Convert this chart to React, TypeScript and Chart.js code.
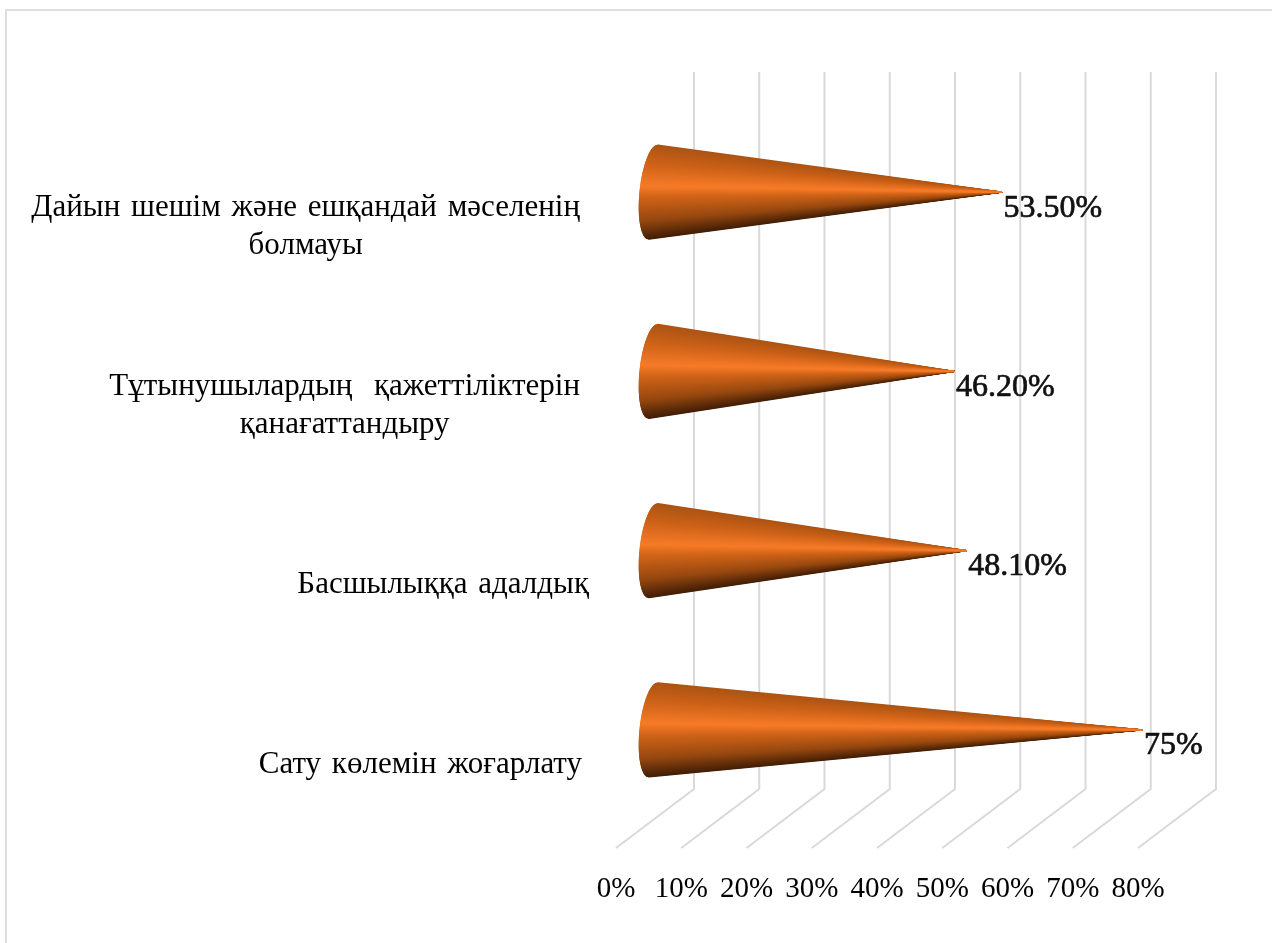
import React, { useEffect, useRef } from "react";
import { Chart, registerables } from "chart.js";

Chart.register(...registerables);

const categories: string[][] = [
  ["Дайын шешім және ешқандай мәселенің", "болмауы"],
  ["Тұтынушылардың  қажеттіліктерін", "қанағаттандыру"],
  ["Басшылыққа адалдық"],
  ["Сату көлемін жоғарлату"],
];
const shares = [53.5, 46.2, 48.1, 75];
const shareLabels = ["53.50%", "46.20%", "48.10%", "75%"];
const xTicks = [0, 10, 20, 30, 40, 50, 60, 70, 80];

const SERIF = '"Liberation Serif", serif';
const GRID = "#d9d9d9";
const DEPTH_X = 78;
const DEPTH_Y = -59;
const CONE_DX = 36.5;
const CONE_DY = -28.5;
const LABEL_RIGHT_EDGES = [580, 580, 589, 582];
const HIGHLIGHT = 0.43;

// Colour ramp across the cone, top silhouette (0) to bottom silhouette (1).
const ramp: [number, number[]][] = [
  [0, [172, 84, 20]],
  [0.2, [205, 98, 24]],
  [HIGHLIGHT, [245, 122, 40]],
  [0.55, [208, 100, 24]],
  [0.8, [150, 72, 16]],
  [1, [66, 30, 6]],
];

function shade(t: number): string {
  for (let i = 1; i < ramp.length; i++) {
    if (t <= ramp[i][0]) {
      const [t0, a] = ramp[i - 1];
      const [t1, b] = ramp[i];
      const k = (t - t0) / (t1 - t0);
      const c = a.map((v, j) => Math.round(v + (b[j] - v) * k));
      return `rgb(${c[0]},${c[1]},${c[2]})`;
    }
  }
  const last = ramp[ramp.length - 1][1];
  return `rgb(${last[0]},${last[1]},${last[2]})`;
}

// Page frame plus the back wall and floor lines of the 3D plot box.
const boxPlugin = {
  id: "box3d",
  beforeDatasetsDraw(chart: any) {
    const { ctx, scales, chartArea } = chart;
    ctx.save();
    ctx.strokeStyle = "#dedede";
    ctx.lineWidth = 2;
    ctx.beginPath();
    ctx.moveTo(6, 943);
    ctx.lineTo(6, 10);
    ctx.lineTo(1272, 10);
    ctx.stroke();

    ctx.strokeStyle = GRID;
    ctx.lineWidth = 2;
    for (const tick of xTicks) {
      const x = scales.x.getPixelForValue(tick);
      ctx.beginPath();
      ctx.moveTo(x + DEPTH_X, chartArea.top + DEPTH_Y);
      ctx.lineTo(x + DEPTH_X, chartArea.bottom + DEPTH_Y);
      ctx.lineTo(x, chartArea.bottom);
      ctx.stroke();
    }
    ctx.restore();
  },
};

// Renders each bar element as a shaded cone lying on its side, then its value label.
const conePlugin = {
  id: "cones",
  afterDatasetsDraw(chart: any) {
    const { ctx, scales } = chart;
    const meta = chart.getDatasetMeta(0);
    const baseX = scales.x.getPixelForValue(0) + CONE_DX + 1;
    meta.data.forEach((bar: any, i: number) => {
      const tipX = bar.x + CONE_DX;
      const cy = bar.y + CONE_DY;
      const steps = 94;
      // Rim of the tilted base ellipse, addressed by height across the silhouette.
      const rim = (t: number) => {
        const sin = 2 * t - 1;
        const cos = Math.sqrt(Math.max(0, 1 - sin * sin));
        return [baseX - 13.5 * cos - 4.5 * sin, cy + 47 * sin];
      };
      // Paint from both silhouettes inward so the bright band stays on top at the tip.
      const order: number[] = [];
      const split = Math.round(HIGHLIGHT * steps);
      for (let s = 0; s < split; s++) order.push(s);
      for (let s = steps - 1; s >= split; s--) order.push(s);
      ctx.save();
      ctx.lineWidth = 1.2;
      ctx.lineJoin = "round";
      for (const s of order) {
        const a = rim(s / steps);
        const b = rim((s + 1) / steps);
        const color = shade((s + 0.5) / steps);
        ctx.fillStyle = color;
        ctx.strokeStyle = color;
        ctx.beginPath();
        ctx.moveTo(tipX, cy);
        ctx.lineTo(a[0], a[1]);
        ctx.lineTo(b[0], b[1]);
        ctx.closePath();
        ctx.fill();
        ctx.stroke();
      }
      ctx.fillStyle = "#111";
      ctx.strokeStyle = "#111";
      ctx.lineWidth = 0.7;
      ctx.font = `32px ${SERIF}`;
      ctx.textAlign = "left";
      ctx.textBaseline = "middle";
      ctx.fillText(shareLabels[i], tipX + 2, cy + 16);
      ctx.strokeText(shareLabels[i], tipX + 2, cy + 16);
      ctx.restore();
    });
  },
};

// Category text is centred line by line inside a block whose right edge is fixed.
const categoryPlugin = {
  id: "categoryText",
  afterDraw(chart: any) {
    const { ctx, scales } = chart;
    const lineHeight = 38;
    ctx.save();
    ctx.font = `31px ${SERIF}`;
    (ctx as any).wordSpacing = "3px";
    ctx.fillStyle = "#000";
    ctx.textAlign = "center";
    ctx.textBaseline = "middle";
    categories.forEach((lines, i) => {
      const widest = Math.max(...lines.map((l) => ctx.measureText(l).width));
      const cx = LABEL_RIGHT_EDGES[i] - widest / 2;
      const cy = scales.y.getPixelForValue(i) + 6;
      lines.forEach((line, k) => {
        ctx.fillText(line, cx, cy + (k - (lines.length - 1) / 2) * lineHeight);
      });
    });
    ctx.restore();
  },
};

export default function App() {
  const canvasRef = useRef<HTMLCanvasElement>(null);

  useEffect(() => {
    const chart = new Chart(canvasRef.current!, {
      type: "bar",
      data: {
        labels: categories,
        datasets: [{ data: shares, backgroundColor: "transparent", borderWidth: 0 }],
      },
      options: {
        indexAxis: "y",
        animation: false,
        responsive: false,
        layout: { padding: { left: 616, top: 131, right: 134, bottom: 0 } },
        plugins: { legend: { display: false }, tooltip: { enabled: false } },
        scales: {
          x: {
            type: "linear",
            min: 0,
            max: 80,
            afterFit: (s: any) => {
              s.height = 95;
            },
            afterBuildTicks: (s: any) => {
              s.ticks = xTicks.map((value) => ({ value }));
            },
            grid: { display: false, drawTicks: false },
            border: { display: false },
            ticks: {
              color: "#000",
              padding: 24,
              maxRotation: 0,
              autoSkip: false,
              font: { family: SERIF, size: 29 },
              callback: (v: any) => `${v}%`,
            },
          },
          y: {
            type: "category",
            afterFit: (s: any) => {
              s.width = 0;
            },
            grid: { display: false, drawTicks: false },
            border: { display: false },
            ticks: { display: false },
          },
        },
      },
      plugins: [boxPlugin, conePlugin, categoryPlugin],
    } as any);
    return () => chart.destroy();
  }, []);

  return (
    <div style={{ position: "absolute", left: 0, top: 0, width: 1272, height: 943, background: "#fff" }}>
      <canvas ref={canvasRef} width={1272} height={943} style={{ display: "block" }} />
    </div>
  );
}
